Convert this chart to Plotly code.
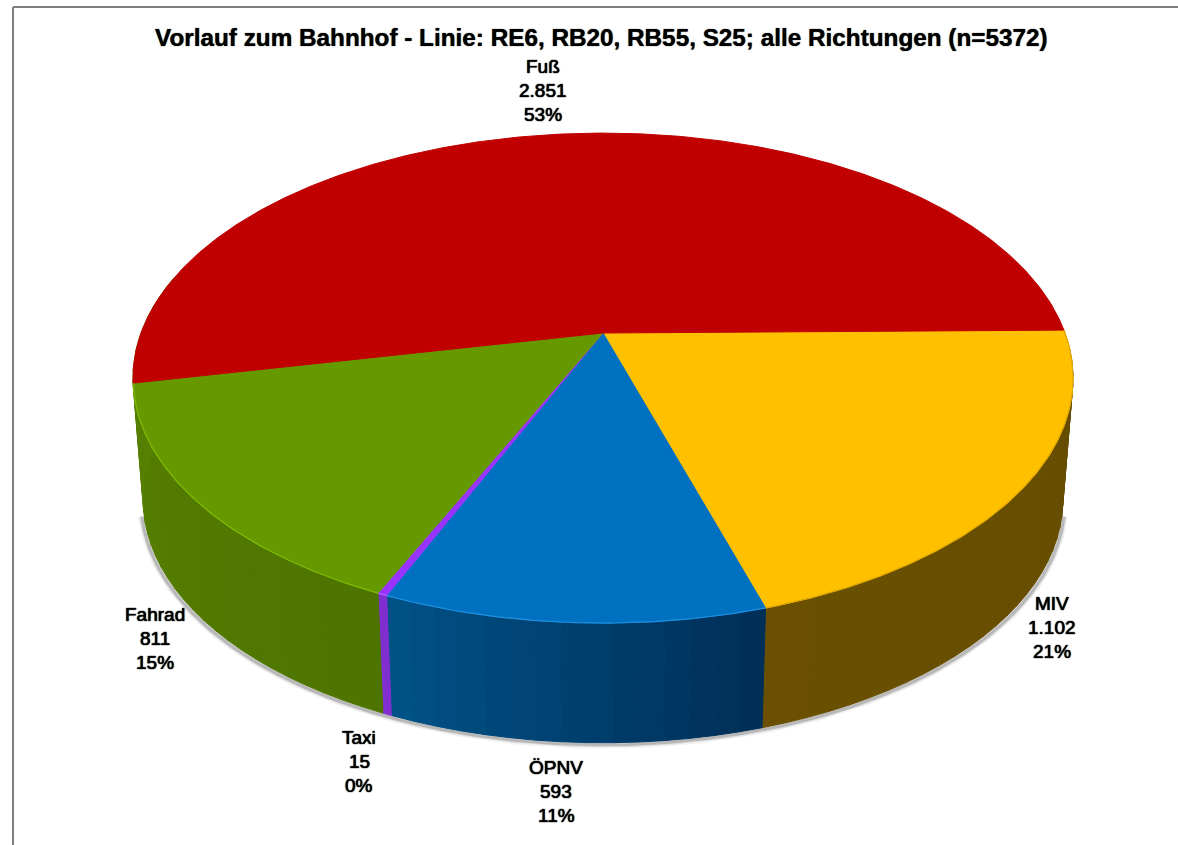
import math
import plotly.graph_objects as go

# --- data ---
categories = ["MIV", "ÖPNV", "Taxi", "Fahrad", "Fuß"]
values = [1102, 593, 15, 811, 2851]
title_text = "Vorlauf zum Bahnhof - Linie: RE6, RB20, RB55, S25; alle Richtungen (n=5372)"

# --- styles ---
top_colors = ["#FFC000", "#0070C0", "#9933FF", "#669900", "#C00000"]
wall_from = [(0x64, 0x4C, 0x00), (0x00, 0x2E, 0x56), (0x7C, 0x2C, 0xC8), (0x4E, 0x74, 0x00)]
wall_to = [(0x6A, 0x50, 0x00), (0x00, 0x52, 0x88), (0x86, 0x30, 0xD8), (0x58, 0x84, 0x00)]
rim_colors = ["#E0A800", "#2090E0", "#B060FF", "#80BB00"]
label_centers = [(1052, 627), (556, 791), (359, 761), (155, 638), (543, 90)]
LINE_GAP = 24
FONT = "Liberation Sans, Arial, sans-serif"

# --- perspective model of the disc ---
CX = 603
K = 0.184
TOP = dict(r=462, h=236.7, y0=333)
BOTTOM = dict(r=452, h=234.8, y0=455)
SHADOW = dict(r=454, h=234.8, y0=457)
START_DEG = -0.7


def project(disc, deg):
    a = math.radians(deg)
    X, Y = math.cos(a), math.sin(a)
    d = 1 - K * Y
    return CX + disc["r"] * X / d, disc["y0"] + disc["h"] * Y / d


def arc(disc, a0, a1, step=0.5):
    n = max(2, int(abs(a1 - a0) / step) + 1)
    pts = [project(disc, a0 + (a1 - a0) * i / (n - 1)) for i in range(n)]
    return [p[0] for p in pts], [p[1] for p in pts]


total = sum(values)
edges = [START_DEG]
for v in values:
    edges.append(edges[-1] + v / total * 360)

fig = go.Figure()


def poly(xs, ys, color, line=None, width=1):
    fig.add_trace(go.Scatter(
        x=xs, y=ys, mode="lines", fill="toself", fillcolor=color,
        line=dict(color=line or color, width=width),
        hoverinfo="skip", showlegend=False))


# soft shadow below the wall
sx, sy = arc(SHADOW, 14, 166)
for w, a in [(8, 0.05), (5, 0.09), (3, 0.16)]:
    fig.add_trace(go.Scatter(
        x=sx, y=sy, mode="lines",
        line=dict(color=f"rgba(0,0,0,{a})", width=w),
        hoverinfo="skip", showlegend=False))

# walls: narrow bands per slice with a shaded colour; the wall of the last
# slice is not visible in the reference, its neighbour runs to the silhouette
for i in range(len(values) - 1):
    a0 = max(edges[i], -8)
    a1 = edges[i + 1] if i < len(values) - 2 else 194
    n = max(1, int((a1 - a0) / 2.5))
    for j in range(n):
        b0 = a0 + (a1 - a0) * j / n
        b1 = a0 + (a1 - a0) * (j + 1) / n
        t = (j + 0.5) / n
        c = tuple(round(wall_from[i][q] + (wall_to[i][q] - wall_from[i][q]) * t) for q in range(3))
        col = "rgb(%d,%d,%d)" % c
        tx, ty = arc(TOP, b0, b1)
        bx, by = arc(BOTTOM, b1, b0)
        poly(tx + bx + tx[:1], ty + by + ty[:1], col)

# top face
for i in range(len(values)):
    ax, ay = arc(TOP, edges[i], edges[i + 1])
    poly([CX] + ax + [CX], [TOP["y0"]] + ay + [TOP["y0"]], top_colors[i])

# bright rim on the front edge
for i in range(len(values) - 1):
    ax, ay = arc(TOP, edges[i], edges[i + 1])
    fig.add_trace(go.Scatter(x=ax, y=ay, mode="lines",
                             line=dict(color=rim_colors[i], width=1.2),
                             hoverinfo="skip", showlegend=False))

# labels
annotations = [dict(x=601, y=37, xref="x", yref="y", text=title_text, showarrow=False,
                    xanchor="center", yanchor="middle",
                    font=dict(family=FONT, size=24.3, color="black", weight="bold",
                              shadow="0 0 1px #000"))]
for name, v, (lx, ly) in zip(categories, values, label_centers):
    lines = [name, f"{v:,}".replace(",", "."), f"{round(v / total * 100)}%"]
    for k, txt in enumerate(lines):
        annotations.append(dict(x=lx, y=ly + (k - 1) * LINE_GAP, xref="x", yref="y", text=txt,
                                showarrow=False, xanchor="center", yanchor="middle",
                                font=dict(family=FONT, size=19, color="black",
                                          shadow="0 0 1px #000, 0 0 1px #000")))

fig.update_layout(
    width=1178, height=845, margin=dict(l=0, r=0, t=0, b=0),
    paper_bgcolor="white", plot_bgcolor="white", showlegend=False,
    xaxis=dict(range=[0, 1178], visible=False, fixedrange=True),
    yaxis=dict(range=[845, 0], visible=False, fixedrange=True),
    annotations=annotations,
    shapes=[
        dict(type="line", xref="x", yref="y", x0=13, x1=13, y0=7, y1=845, line=dict(color="#7f7f7f", width=2)),
        dict(type="line", xref="x", yref="y", x0=13, x1=1178, y0=7, y1=7, line=dict(color="#7f7f7f", width=2)),
    ],
)
fig.write_html("out.html", config={"displayModeBar": False},
               post_script="document.body.style.margin='0';document.body.style.overflow='hidden';")
